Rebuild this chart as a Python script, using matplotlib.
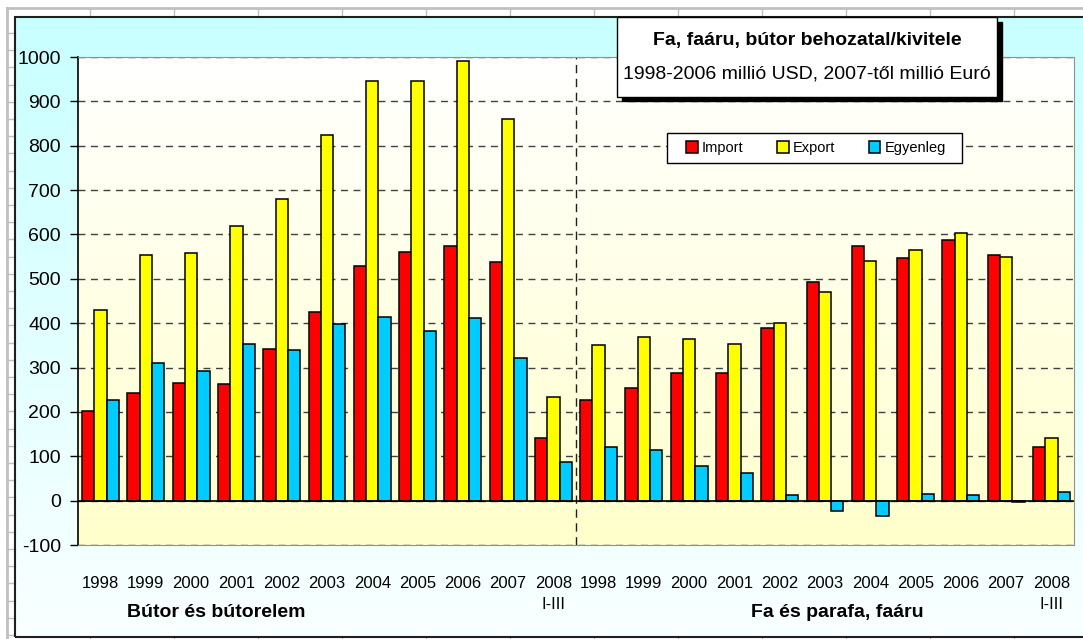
import numpy as np
import matplotlib
matplotlib.use("Agg")
import matplotlib.pyplot as plt
from matplotlib.patches import Rectangle
from matplotlib.lines import Line2D
from matplotlib.colors import LinearSegmentedColormap

plt.rcParams['font.family'] = ['Liberation Sans', 'DejaVu Sans']
plt.rcParams['axes.unicode_minus'] = False

# ---- data ----
years = ['1998', '1999', '2000', '2001', '2002', '2003', '2004', '2005', '2006', '2007', '2008\nI-III']
butor_import = [201, 243, 266, 263, 341, 426, 530, 561, 574, 538, 142]
butor_export = [429, 554, 558, 618, 679, 825, 946, 946, 990, 861, 233]
butor_balance = [226, 310, 293, 354, 339, 399, 415, 382, 412, 321, 87]
fa_import = [226, 253, 287, 287, 389, 493, 574, 548, 588, 554, 122]
fa_export = [351, 369, 365, 354, 401, 470, 540, 564, 604, 550, 142]
fa_balance = [121, 114, 77, 63, 13, -24, -35, 16, 13, -4, 20]
series_names = ['Import', 'Export', 'Egyenleg']
series_colors = ['#FF0000', '#FFFF00', '#00CCFF']
title_line1 = 'Fa, faáru, bútor behozatal/kivitele'
title_line2 = '1998-2006 millió USD, 2007-től millió Euró'
group_names = ['Bútor és bútorelem', 'Fa és parafa, faáru']

W, H = 1083, 639
fig = plt.figure(figsize=(W / 100, H / 100), dpi=100, facecolor='white')


def fx(px):
    return px / W


def fy(py):
    return 1 - py / H


# spreadsheet grid decoration
gcol = '#C0C0C0'
fig.add_artist(Line2D([fx(7), 1], [fy(8), fy(8)], color=gcol, lw=2))
fig.add_artist(Line2D([fx(7), fx(7)], [fy(8), 0], color=gcol, lw=2))
for xc in range(90, W, 84):
    fig.add_artist(Line2D([fx(xc), fx(xc)], [fy(8), fy(17)], color=gcol, lw=1))
    fig.add_artist(Line2D([fx(xc), fx(xc)], [fy(637), 0], color=gcol, lw=1))
for yr in np.arange(33, H, 17.2):
    fig.add_artist(Line2D([fx(7), fx(15)], [fy(yr), fy(yr)], color=gcol, lw=1))

# chart area background
cyan_cmap = LinearSegmentedColormap.from_list('c', ['#C8FFFF', '#FAFFFF'])
ax_bg = fig.add_axes([fx(15), fy(637), 1 - fx(15) + 0.01, fy(17) - fy(637)])
ax_bg.imshow(np.linspace(0, 1, 256).reshape(-1, 1), aspect='auto', cmap=cyan_cmap,
             extent=[0, 1, 0, 1], origin='upper')
ax_bg.set_xlim(0, 1)
ax_bg.set_ylim(0, 1)
ax_bg.axis('off')
fig.add_artist(Rectangle((fx(15), fy(637)), 1.0, fy(17) - fy(637), transform=fig.transFigure,
                         fill=False, edgecolor='#202020', lw=1.5, zorder=5))

# main plot area
ax = fig.add_axes([fx(78), fy(545), fx(1074) - fx(78), fy(57) - fy(545)])
plot_cmap = LinearSegmentedColormap.from_list('y', ['#FFFFFF', '#FFFFCC'])
ax.imshow(np.linspace(0, 1, 256).reshape(-1, 1), aspect='auto', cmap=plot_cmap,
          extent=[0, 1, 0, 1], transform=ax.transAxes, origin='upper', zorder=0)

n = len(years)
x1 = np.arange(n)
x2 = np.arange(n) + n
bw = 0.272
groups = [(x1, [butor_import, butor_export, butor_balance]),
          (x2, [fa_import, fa_export, fa_balance])]
handles = []
for gi, (xs, vals) in enumerate(groups):
    for k, (v, c) in enumerate(zip(vals, series_colors)):
        b = ax.bar(xs + (k - 1) * bw, v, width=bw, color=c, edgecolor='black', lw=1.1, zorder=3)
        if gi == 0:
            handles.append(b)

ax.set_xlim(-0.5, 2 * n - 0.5)
ax.set_ylim(-100, 1000)
ax.set_yticks(range(-100, 1001, 100))
ax.yaxis.grid(True, linestyle=(0, (5, 4)), color='#404040', lw=1)
ax.set_axisbelow(True)
ax.axhline(0, color='black', lw=1.2, zorder=4)
ax.axvline(n - 0.5, color='#202020', lw=1, linestyle=(0, (6, 4)), zorder=2)

ax.set_xticks(np.concatenate([x1, x2]))
ax.set_xticklabels(years + years, fontsize=12, linespacing=1.5)
ax.tick_params(axis='x', length=0, pad=22)
ax.tick_params(axis='y', length=5.8, width=1, labelsize=14, pad=6.5, direction='out')
for s in ['top', 'right', 'bottom']:
    ax.spines[s].set_color('#909090')
ax.spines['left'].set_color('black')
ax.spines['left'].set_linewidth(1.2)

ax.text(2.55, -0.139, group_names[0], transform=ax.get_xaxis_transform(), ha='center', va='center',
        fontsize=14, fontweight='bold')
ax.text(16.27, -0.139, group_names[1], transform=ax.get_xaxis_transform(), ha='center', va='center',
        fontsize=14, fontweight='bold')

# legend (frame drawn separately)
fig.add_artist(Rectangle((fx(667), fy(163)), fx(962) - fx(667), fy(133) - fy(163), transform=fig.transFigure,
                         facecolor='white', edgecolor='black', lw=1, zorder=9))
leg = fig.legend(handles, series_names, loc='center', bbox_to_anchor=(fx(816), fy(148)),
                 bbox_transform=fig.transFigure, ncol=3, frameon=False, fontsize=10.5,
                 handlelength=0.8, handleheight=0.8, handletextpad=0.3, columnspacing=2.28,
                 borderpad=0.3, borderaxespad=0)
leg.set_zorder(10)

# title box with shadow
fig.add_artist(Rectangle((fx(622), fy(101)), fx(1002) - fx(622), fy(22) - fy(101), transform=fig.transFigure,
                         facecolor='black', edgecolor='black', zorder=20))
fig.add_artist(Rectangle((fx(617), fy(97)), fx(997) - fx(617), fy(17) - fy(97), transform=fig.transFigure,
                         facecolor='white', edgecolor='black', lw=1, zorder=21))
fig.text(fx(807), fy(41), title_line1, ha='center', va='center', fontsize=14, fontweight='bold', zorder=22)
fig.text(fx(807), fy(74), title_line2, ha='center', va='center', fontsize=14, zorder=22)

fig.savefig('out.png', dpi=100)
